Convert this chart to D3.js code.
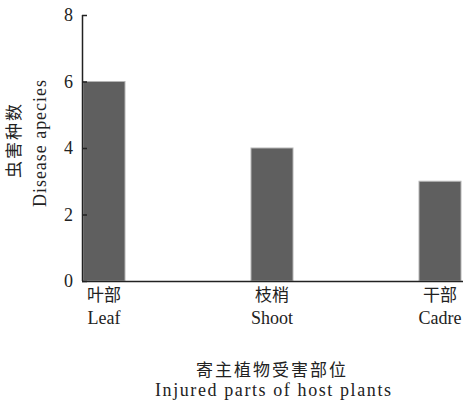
<!DOCTYPE html>
<html>
<head>
<meta charset="utf-8">
<script src="https://cdn.jsdelivr.net/npm/d3@7"></script>
<style>
  body { margin: 0; background: #fff; }
  text { fill: #222; }
</style>
</head>
<body>
<svg width="463" height="404"></svg>
<script>
// chart data
var categoriesZh = ["叶部", "枝梢", "干部"];
var categoriesEn = ["Leaf", "Shoot", "Cadre"];
var values = [6, 4, 3];
var yTicks = [0, 2, 4, 6, 8];

var svg = d3.select("svg");

var x = d3.scalePoint()
    .domain(categoriesEn)
    .range([104, 440]);

var y = d3.scaleLinear()
    .domain([0, 8])
    .range([281, 15]);

var barWidth = 42;

// bars
svg.append("g")
    .selectAll("rect")
    .data(values)
    .enter().append("rect")
    .attr("x", function(d, i) { return x(categoriesEn[i]) - barWidth / 2; })
    .attr("y", function(d) { return y(d); })
    .attr("width", barWidth)
    .attr("height", function(d) { return y(0) - y(d); })
    .attr("fill", "#5f5f5f")
    .attr("stroke", "#b5b5b5")
    .attr("stroke-width", 1);

// y axis
var yAxis = svg.append("g")
    .attr("transform", "translate(82,0)")
    .call(d3.axisRight(y).tickValues(yTicks).tickSize(5).tickFormat(d3.format("d")));
yAxis.select(".domain").attr("d", "M0.5," + y(8) + "V" + y(0)).attr("stroke", "#222").attr("stroke-width", 1.5);
yAxis.selectAll(".tick line").attr("stroke", "#222").attr("stroke-width", 1.5);
yAxis.selectAll(".tick text")
    .attr("x", -9)
    .attr("text-anchor", "end")
    .attr("font-family", "Liberation Serif")
    .attr("font-size", 18)
    .style("fill", "#222");

// x axis line
svg.append("line")
    .attr("x1", 82).attr("x2", 463)
    .attr("y1", y(0) + 0.5).attr("y2", y(0) + 0.5)
    .attr("stroke", "#222").attr("stroke-width", 1.5);

// category labels
var cats = svg.append("g");
cats.selectAll("text.zh")
    .data(categoriesZh)
    .enter().append("text")
    .attr("class", "zh")
    .attr("x", function(d, i) { return x(categoriesEn[i]); })
    .attr("y", 301)
    .attr("text-anchor", "middle")
    .attr("font-family", "Noto Sans CJK SC")
    .attr("font-size", 17)
    .text(function(d) { return d; });
cats.selectAll("text.en")
    .data(categoriesEn)
    .enter().append("text")
    .attr("class", "en")
    .attr("x", function(d) { return x(d); })
    .attr("y", 324)
    .attr("text-anchor", "middle")
    .attr("font-family", "Liberation Serif")
    .attr("font-size", 18)
    .text(function(d) { return d; });

// x axis title
svg.append("text")
    .attr("x", 272).attr("y", 376)
    .attr("text-anchor", "middle")
    .attr("font-family", "Noto Sans CJK SC")
    .attr("font-size", 17)
    .attr("letter-spacing", 2)
    .text("寄主植物受害部位");
svg.append("text")
    .attr("x", 155).attr("y", 396)
    .attr("textLength", 236)
    .attr("lengthAdjust", "spacing")
    .attr("font-family", "Liberation Serif")
    .attr("font-size", 18)
    .text("Injured parts of host plants");

// y axis title
svg.append("text")
    .attr("transform", "translate(20,140) rotate(-90)")
    .attr("text-anchor", "middle")
    .attr("font-family", "Noto Sans CJK SC")
    .attr("font-size", 17)
    .attr("letter-spacing", 2)
    .text("虫害种数");
svg.append("text")
    .attr("transform", "translate(46,207) rotate(-90)")
    .attr("textLength", 127)
    .attr("lengthAdjust", "spacing")
    .attr("font-family", "Liberation Serif")
    .attr("font-size", 18)
    .text("Disease apecies");
</script>
</body>
</html>
